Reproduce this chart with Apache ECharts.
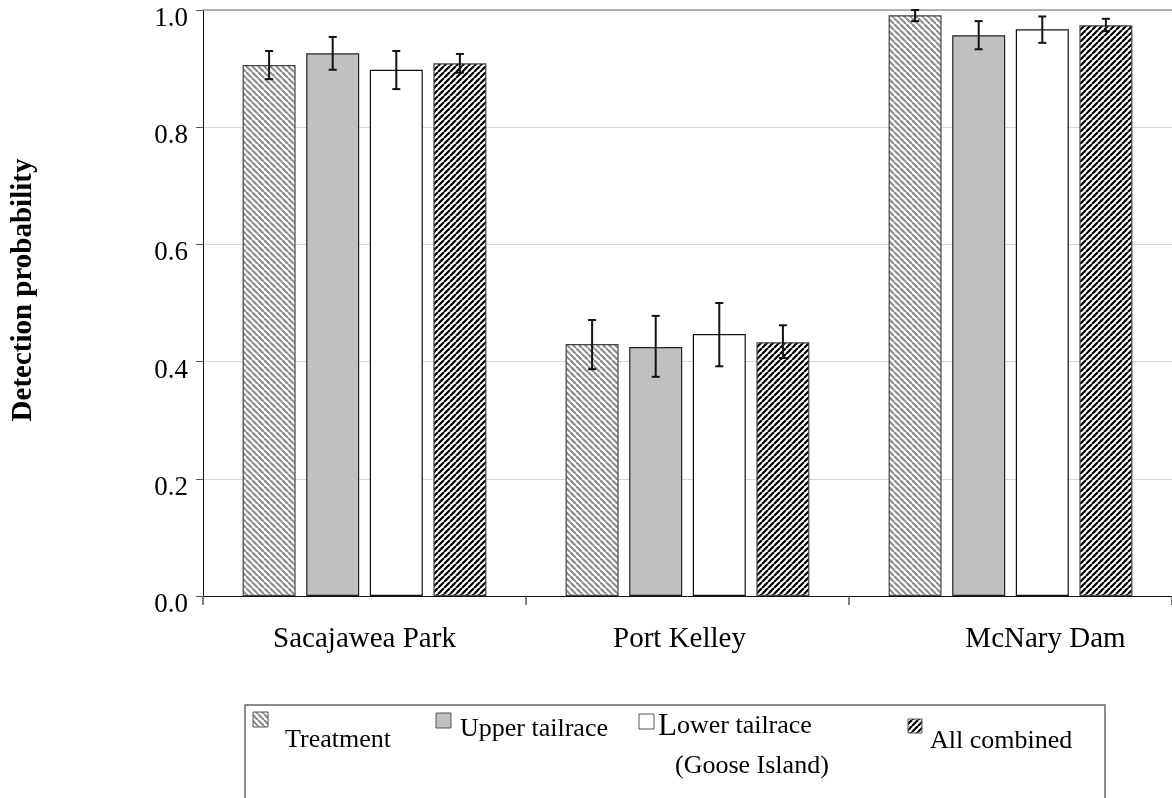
<!DOCTYPE html>
<html>
<head>
<meta charset="utf-8">
<script src="https://cdn.jsdelivr.net/npm/echarts@6/dist/echarts.min.js"></script>
<style>
  html, body { margin: 0; padding: 0; background: #fff; }
  #chart { width: 1172px; height: 798px; }
</style>
</head>
<body>
<div id="chart"></div>
<script>
// Detection probabilities (with error bounds) by site and release group
const categories = ['Sacajawea Park', 'Port Kelley', 'McNary Dam'];
const seriesNames = ['Treatment', 'Upper tailrace', 'Lower tailrace\n(Goose Island)', 'All combined'];

const treatment     = [0.906, 0.430, 0.991];
const treatmentLow  = [0.882, 0.387, 0.981];
const treatmentHigh = [0.930, 0.471, 1.000];

const upperTail     = [0.926, 0.425, 0.957];
const upperTailLow  = [0.898, 0.374, 0.933];
const upperTailHigh = [0.954, 0.478, 0.981];

const lowerTail     = [0.898, 0.447, 0.967];
const lowerTailLow  = [0.865, 0.392, 0.944];
const lowerTailHigh = [0.930, 0.500, 0.989];

const allCombined     = [0.909, 0.433, 0.974];
const allCombinedLow  = [0.893, 0.406, 0.964];
const allCombinedHigh = [0.925, 0.462, 0.985];

const yTickValues = [0.0, 0.2, 0.4, 0.6, 0.8, 1.0];

const values = [treatment, upperTail, lowerTail, allCombined];
const lows   = [treatmentLow, upperTailLow, lowerTailLow, allCombinedLow];
const highs  = [treatmentHigh, upperTailHigh, lowerTailHigh, allCombinedHigh];

const SERIF = '"Liberation Serif", "Times New Roman", serif';
const BAR_W = 53;
const BAR_GAP = 0.2;

// 45-degree stripe tiles used as bar fills
function stripes(size, fg, bg, lw, dir) {
  const c = document.createElement('canvas');
  c.width = c.height = size;
  const g = c.getContext('2d');
  g.fillStyle = bg;
  g.fillRect(0, 0, size, size);
  g.strokeStyle = fg;
  g.lineWidth = lw;
  g.beginPath();
  for (let k = -1; k <= 1; k++) {
    if (dir === 'down') {
      g.moveTo(k * size, 0); g.lineTo(k * size + size, size);
    } else {
      g.moveTo(k * size, size); g.lineTo(k * size + size, 0);
    }
  }
  g.stroke();
  return c;
}

const fills = [
  { type: 'pattern', image: stripes(6, '#8a8a8a', '#ffffff', 2.0, 'down'), repeat: 'repeat' },
  '#c0c0c0',
  '#ffffff',
  { type: 'pattern', image: stripes(6, '#000000', '#ffffff', 2.2, 'up'), repeat: 'repeat' }
];
const borders = ['#444', '#222', '#111', '#444'];

const barSeries = values.map((vals, i) => ({
  name: seriesNames[i],
  type: 'bar',
  barWidth: BAR_W,
  barGap: (BAR_GAP * 100) + '%',
  data: vals,
  itemStyle: { color: fills[i], borderColor: borders[i], borderWidth: 1.2 },
  z: 2,
  markLine: i === 0 ? {
    silent: true, symbol: 'none', label: { show: false },
    lineStyle: { color: '#9a9a9a', width: 1.5, type: 'solid' },
    data: [{ yAxis: 1 }]
  } : undefined
}));

const errorSeries = values.map((vals, i) => ({
  type: 'custom',
  z: 5,
  silent: true,
  data: categories.map((c, j) => [j, lows[i][j], highs[i][j]]),
  renderItem: function (params, api) {
    const offset = (i - 1.5) * BAR_W * (1 + BAR_GAP);
    const lo = api.coord([api.value(0), api.value(1)]);
    const hi = api.coord([api.value(0), api.value(2)]);
    const x = lo[0] + offset;
    const cap = 4;
    const st = { stroke: '#111', lineWidth: 2 };
    return {
      type: 'group',
      children: [
        { type: 'line', shape: { x1: x, y1: lo[1], x2: x, y2: hi[1] }, style: st },
        { type: 'line', shape: { x1: x - cap, y1: lo[1], x2: x + cap, y2: lo[1] }, style: st },
        { type: 'line', shape: { x1: x - cap, y1: hi[1], x2: x + cap, y2: hi[1] }, style: st }
      ]
    };
  }
}));

// Legend panel drawn as graphic elements
const legendSlots = [
  { ix: 253, iy: 712, is: 15, tx: 285, ty: 747 },
  { ix: 436, iy: 713, is: 15, tx: 460, ty: 736 },
  { ix: 639, iy: 714, is: 15, tx: 658, ty: 736 },
  { ix: 908, iy: 719, is: 14, tx: 930, ty: 748 }
];
const legendGraphics = [{
  type: 'rect',
  shape: { x: 245, y: 705, width: 860, height: 130 },
  style: { fill: 'none', stroke: '#666', lineWidth: 1.5 },
  silent: true
}];
seriesNames.forEach((name, i) => {
  const s = legendSlots[i];
  legendGraphics.push({
    type: 'rect',
    shape: { x: s.ix, y: s.iy, width: s.is, height: s.is },
    style: { fill: fills[i], stroke: '#555', lineWidth: 1 },
    silent: true
  });
  const lines = name.split('\n');
  lines.forEach((line, k) => {
    const first = k === 0 && i === 2;
    legendGraphics.push({
      type: 'text',
      x: s.tx + (k > 0 ? 17 : 0),
      y: s.ty + k * 37 + 6,
      silent: true,
      style: {
        text: first ? '{big|' + line[0] + '}' + line.slice(1) : line,
        rich: first ? { big: { fontSize: 31, fontFamily: SERIF, fill: '#000' } } : undefined,
        fontSize: 26,
        fontFamily: SERIF,
        fill: '#000',
        textAlign: 'left',
        textVerticalAlign: 'bottom'
      }
    });
  });
});

legendGraphics.push({
  type: 'text',
  x: 24, y: 290,
  rotation: Math.PI / 2,
  silent: true,
  style: {
    text: 'Detection probability',
    fontSize: 29,
    fontWeight: 'bold',
    fontFamily: SERIF,
    fill: '#000',
    textAlign: 'center',
    textVerticalAlign: 'middle'
  }
});

const labelShift = { 'Port Kelley': [0, 16, 0, 0], 'McNary Dam': [0, 0, 0, 70] };

const chart = echarts.init(document.getElementById('chart'), null, { renderer: 'canvas' });
chart.setOption({
  animation: false,
  backgroundColor: '#ffffff',
  grid: { left: 203, top: 10, width: 971, height: 586, containLabel: false },
  xAxis: {
    type: 'category',
    data: categories,
    boundaryGap: true,
    axisLine: { show: true, lineStyle: { color: '#111', width: 1 } },
    axisTick: { show: true, length: 9, lineStyle: { color: '#555', width: 1.5 } },
    axisLabel: {
      margin: 29,
      color: '#000',
      fontSize: 29,
      fontFamily: SERIF,
      formatter: function (v) {
        return labelShift[v] ? '{s' + categories.indexOf(v) + '|' + v + '}' : v;
      },
      rich: {
        s1: { fontSize: 29, fontFamily: SERIF, color: '#000', padding: labelShift['Port Kelley'] },
        s2: { fontSize: 29, fontFamily: SERIF, color: '#000', padding: labelShift['McNary Dam'] }
      }
    },
    splitLine: { show: false }
  },
  yAxis: {
    type: 'value',
    min: yTickValues[0],
    max: yTickValues[yTickValues.length - 1],
    interval: 0.2,
    axisLine: { show: true, lineStyle: { color: '#111', width: 1 } },
    axisTick: { show: true, length: 7, lineStyle: { color: '#555', width: 1 } },
    axisLabel: {
      margin: 15,
      color: '#000',
      fontSize: 27,
      fontFamily: SERIF,
      verticalAlign: 'top',
      lineHeight: 18,
      formatter: v => v.toFixed(1)
    },
    splitLine: { show: true, lineStyle: { color: '#d6d6d6', width: 1 } }
  },
  series: barSeries.concat(errorSeries),
  graphic: legendGraphics
});
</script>
</body>
</html>
